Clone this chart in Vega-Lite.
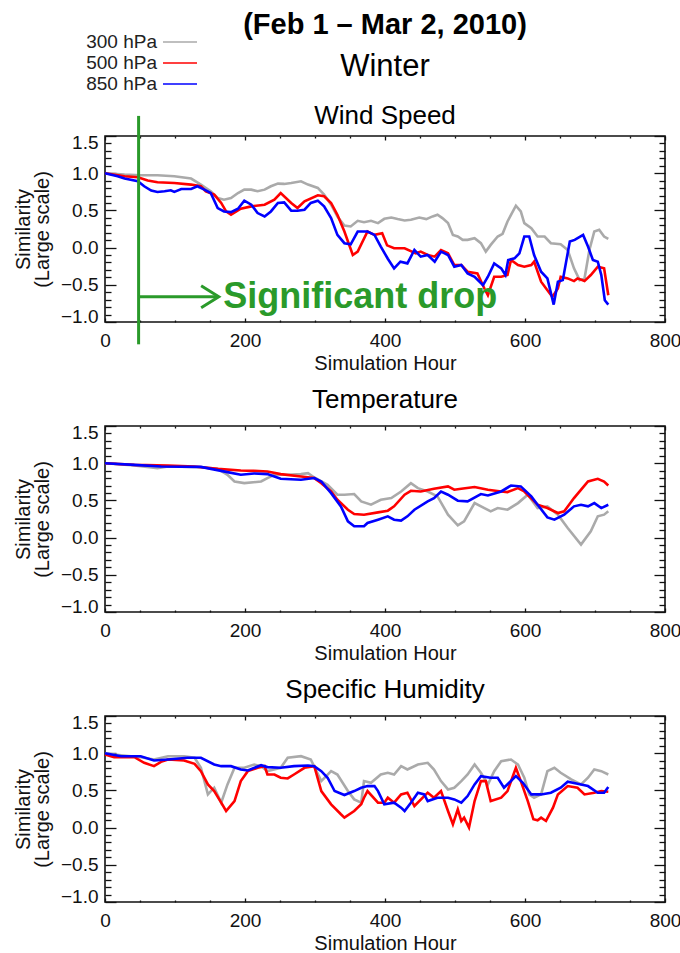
{
  "$schema": "https://vega.github.io/schema/vega-lite/v6.json",
  "background": "white",
  "padding": {"left": 12, "top": 11, "right": 0, "bottom": 0},
  "title": {
    "text": "(Feb 1 – Mar 2, 2010)",
    "subtitle": "Winter",
    "font": "Liberation Sans",
    "fontSize": 29,
    "fontWeight": "bold",
    "color": "#000",
    "subtitleFont": "Liberation Sans",
    "subtitleFontSize": 31,
    "subtitleColor": "#000",
    "subtitlePadding": 12,
    "anchor": "middle",
    "frame": "group",
    "offset": -52
  },
  "datasets": {
    "wind": [
      {"level":"300 hPa","hour":0,"value":1.0},{"level":"300 hPa","hour":28,"value":0.982},{"level":"300 hPa","hour":51,"value":0.973},{"level":"300 hPa","hour":75,"value":0.973},{"level":"300 hPa","hour":99,"value":0.959},{"level":"300 hPa","hour":123,"value":0.928},{"level":"300 hPa","hour":137,"value":0.847},{"level":"300 hPa","hour":151,"value":0.757},{"level":"300 hPa","hour":161,"value":0.667},{"level":"300 hPa","hour":170,"value":0.644},{"level":"300 hPa","hour":180,"value":0.667},{"level":"300 hPa","hour":190,"value":0.734},{"level":"300 hPa","hour":199,"value":0.779},{"level":"300 hPa","hour":209,"value":0.779},{"level":"300 hPa","hour":218,"value":0.757},{"level":"300 hPa","hour":228,"value":0.779},{"level":"300 hPa","hour":237,"value":0.824},{"level":"300 hPa","hour":247,"value":0.86},{"level":"300 hPa","hour":256,"value":0.856},{"level":"300 hPa","hour":266,"value":0.869},{"level":"300 hPa","hour":280,"value":0.892},{"level":"300 hPa","hour":290,"value":0.847},{"level":"300 hPa","hour":304,"value":0.802},{"level":"300 hPa","hour":313,"value":0.712},{"level":"300 hPa","hour":323,"value":0.577},{"level":"300 hPa","hour":332,"value":0.419},{"level":"300 hPa","hour":342,"value":0.297},{"level":"300 hPa","hour":351,"value":0.284},{"level":"300 hPa","hour":361,"value":0.36},{"level":"300 hPa","hour":370,"value":0.342},{"level":"300 hPa","hour":380,"value":0.36},{"level":"300 hPa","hour":390,"value":0.329},{"level":"300 hPa","hour":399,"value":0.387},{"level":"300 hPa","hour":409,"value":0.405},{"level":"300 hPa","hour":418,"value":0.383},{"level":"300 hPa","hour":428,"value":0.365},{"level":"300 hPa","hour":437,"value":0.374},{"level":"300 hPa","hour":449,"value":0.405},{"level":"300 hPa","hour":459,"value":0.383},{"level":"300 hPa","hour":468,"value":0.419},{"level":"300 hPa","hour":475,"value":0.441},{"level":"300 hPa","hour":482,"value":0.396},{"level":"300 hPa","hour":490,"value":0.329},{"level":"300 hPa","hour":497,"value":0.171},{"level":"300 hPa","hour":504,"value":0.149},{"level":"300 hPa","hour":511,"value":0.104},{"level":"300 hPa","hour":518,"value":0.104},{"level":"300 hPa","hour":528,"value":0.126},{"level":"300 hPa","hour":537,"value":0.059},{"level":"300 hPa","hour":544,"value":-0.054},{"level":"300 hPa","hour":551,"value":0.036},{"level":"300 hPa","hour":561,"value":0.149},{"level":"300 hPa","hour":568,"value":0.185},{"level":"300 hPa","hour":575,"value":0.351},{"level":"300 hPa","hour":580,"value":0.441},{"level":"300 hPa","hour":587,"value":0.563},{"level":"300 hPa","hour":594,"value":0.486},{"level":"300 hPa","hour":599,"value":0.329},{"level":"300 hPa","hour":609,"value":0.261},{"level":"300 hPa","hour":618,"value":0.149},{"level":"300 hPa","hour":628,"value":0.149},{"level":"300 hPa","hour":637,"value":0.059},{"level":"300 hPa","hour":651,"value":0.045},{"level":"300 hPa","hour":661,"value":-0.032},{"level":"300 hPa","hour":670,"value":-0.279},{"level":"300 hPa","hour":678,"value":-0.437},{"level":"300 hPa","hour":685,"value":-0.414},{"level":"300 hPa","hour":692,"value":-0.032},{"level":"300 hPa","hour":699,"value":0.216},{"level":"300 hPa","hour":706,"value":0.239},{"level":"300 hPa","hour":713,"value":0.149},{"level":"300 hPa","hour":719,"value":0.117},
      {"level":"500 hPa","hour":0,"value":1.0},{"level":"500 hPa","hour":28,"value":0.959},{"level":"500 hPa","hour":47,"value":0.946},{"level":"500 hPa","hour":61,"value":0.901},{"level":"500 hPa","hour":75,"value":0.878},{"level":"500 hPa","hour":99,"value":0.869},{"level":"500 hPa","hour":123,"value":0.847},{"level":"500 hPa","hour":137,"value":0.824},{"level":"500 hPa","hour":144,"value":0.757},{"level":"500 hPa","hour":156,"value":0.712},{"level":"500 hPa","hour":166,"value":0.6},{"level":"500 hPa","hour":173,"value":0.486},{"level":"500 hPa","hour":180,"value":0.441},{"level":"500 hPa","hour":194,"value":0.523},{"level":"500 hPa","hour":209,"value":0.554},{"level":"500 hPa","hour":228,"value":0.577},{"level":"500 hPa","hour":242,"value":0.644},{"level":"500 hPa","hour":251,"value":0.734},{"level":"500 hPa","hour":266,"value":0.6},{"level":"500 hPa","hour":275,"value":0.532},{"level":"500 hPa","hour":285,"value":0.622},{"level":"500 hPa","hour":304,"value":0.703},{"level":"500 hPa","hour":313,"value":0.689},{"level":"500 hPa","hour":323,"value":0.6},{"level":"500 hPa","hour":332,"value":0.441},{"level":"500 hPa","hour":342,"value":0.216},{"level":"500 hPa","hour":354,"value":-0.099},{"level":"500 hPa","hour":361,"value":-0.054},{"level":"500 hPa","hour":375,"value":0.216},{"level":"500 hPa","hour":385,"value":0.171},{"level":"500 hPa","hour":396,"value":0.194},{"level":"500 hPa","hour":403,"value":0.03},{"level":"500 hPa","hour":413,"value":-0.009},{"level":"500 hPa","hour":428,"value":-0.009},{"level":"500 hPa","hour":444,"value":-0.077},{"level":"500 hPa","hour":451,"value":-0.054},{"level":"500 hPa","hour":461,"value":-0.099},{"level":"500 hPa","hour":471,"value":-0.122},{"level":"500 hPa","hour":480,"value":-0.032},{"level":"500 hPa","hour":490,"value":-0.077},{"level":"500 hPa","hour":499,"value":-0.234},{"level":"500 hPa","hour":509,"value":-0.234},{"level":"500 hPa","hour":518,"value":-0.324},{"level":"500 hPa","hour":532,"value":-0.347},{"level":"500 hPa","hour":542,"value":-0.55},{"level":"500 hPa","hour":547,"value":-0.64},{"level":"500 hPa","hour":556,"value":-0.392},{"level":"500 hPa","hour":566,"value":-0.392},{"level":"500 hPa","hour":575,"value":-0.369},{"level":"500 hPa","hour":580,"value":-0.167},{"level":"500 hPa","hour":590,"value":-0.234},{"level":"500 hPa","hour":599,"value":-0.257},{"level":"500 hPa","hour":609,"value":-0.234},{"level":"500 hPa","hour":613,"value":-0.189},{"level":"500 hPa","hour":623,"value":-0.459},{"level":"500 hPa","hour":632,"value":-0.572},{"level":"500 hPa","hour":639,"value":-0.662},{"level":"500 hPa","hour":647,"value":-0.55},{"level":"500 hPa","hour":651,"value":-0.392},{"level":"500 hPa","hour":661,"value":-0.414},{"level":"500 hPa","hour":670,"value":-0.45},{"level":"500 hPa","hour":675,"value":-0.414},{"level":"500 hPa","hour":685,"value":-0.45},{"level":"500 hPa","hour":694,"value":-0.369},{"level":"500 hPa","hour":704,"value":-0.257},{"level":"500 hPa","hour":713,"value":-0.279},{"level":"500 hPa","hour":719,"value":-0.64},
      {"level":"850 hPa","hour":0,"value":1.0},{"level":"850 hPa","hour":18,"value":0.959},{"level":"850 hPa","hour":28,"value":0.928},{"level":"850 hPa","hour":47,"value":0.892},{"level":"850 hPa","hour":56,"value":0.824},{"level":"850 hPa","hour":66,"value":0.766},{"level":"850 hPa","hour":75,"value":0.748},{"level":"850 hPa","hour":85,"value":0.757},{"level":"850 hPa","hour":94,"value":0.77},{"level":"850 hPa","hour":99,"value":0.748},{"level":"850 hPa","hour":109,"value":0.788},{"level":"850 hPa","hour":123,"value":0.788},{"level":"850 hPa","hour":132,"value":0.824},{"level":"850 hPa","hour":142,"value":0.779},{"level":"850 hPa","hour":151,"value":0.734},{"level":"850 hPa","hour":161,"value":0.532},{"level":"850 hPa","hour":170,"value":0.486},{"level":"850 hPa","hour":180,"value":0.477},{"level":"850 hPa","hour":190,"value":0.523},{"level":"850 hPa","hour":199,"value":0.631},{"level":"850 hPa","hour":209,"value":0.577},{"level":"850 hPa","hour":218,"value":0.464},{"level":"850 hPa","hour":228,"value":0.419},{"level":"850 hPa","hour":237,"value":0.486},{"level":"850 hPa","hour":247,"value":0.6},{"level":"850 hPa","hour":256,"value":0.608},{"level":"850 hPa","hour":266,"value":0.496},{"level":"850 hPa","hour":275,"value":0.496},{"level":"850 hPa","hour":285,"value":0.509},{"level":"850 hPa","hour":294,"value":0.6},{"level":"850 hPa","hour":304,"value":0.631},{"level":"850 hPa","hour":313,"value":0.554},{"level":"850 hPa","hour":323,"value":0.396},{"level":"850 hPa","hour":332,"value":0.171},{"level":"850 hPa","hour":342,"value":0.059},{"level":"850 hPa","hour":351,"value":0.045},{"level":"850 hPa","hour":361,"value":0.216},{"level":"850 hPa","hour":375,"value":0.216},{"level":"850 hPa","hour":385,"value":0.171},{"level":"850 hPa","hour":394,"value":0.014},{"level":"850 hPa","hour":404,"value":-0.15},{"level":"850 hPa","hour":413,"value":-0.279},{"level":"850 hPa","hour":422,"value":-0.189},{"level":"850 hPa","hour":432,"value":-0.212},{"level":"850 hPa","hour":442,"value":-0.032},{"level":"850 hPa","hour":451,"value":-0.122},{"level":"850 hPa","hour":461,"value":-0.099},{"level":"850 hPa","hour":471,"value":-0.189},{"level":"850 hPa","hour":480,"value":-0.054},{"level":"850 hPa","hour":490,"value":-0.099},{"level":"850 hPa","hour":499,"value":-0.257},{"level":"850 hPa","hour":509,"value":-0.234},{"level":"850 hPa","hour":518,"value":-0.347},{"level":"850 hPa","hour":528,"value":-0.392},{"level":"850 hPa","hour":540,"value":-0.505},{"level":"850 hPa","hour":547,"value":-0.392},{"level":"850 hPa","hour":556,"value":-0.212},{"level":"850 hPa","hour":566,"value":-0.279},{"level":"850 hPa","hour":572,"value":-0.369},{"level":"850 hPa","hour":576,"value":-0.167},{"level":"850 hPa","hour":585,"value":-0.144},{"level":"850 hPa","hour":592,"value":-0.077},{"level":"850 hPa","hour":599,"value":0.149},{"level":"850 hPa","hour":606,"value":0.149},{"level":"850 hPa","hour":613,"value":-0.099},{"level":"850 hPa","hour":623,"value":-0.324},{"level":"850 hPa","hour":632,"value":-0.414},{"level":"850 hPa","hour":641,"value":-0.766},{"level":"850 hPa","hour":647,"value":-0.459},{"level":"850 hPa","hour":654,"value":-0.437},{"level":"850 hPa","hour":664,"value":0.081},{"level":"850 hPa","hour":671,"value":0.104},{"level":"850 hPa","hour":683,"value":0.171},{"level":"850 hPa","hour":690,"value":0.014},{"level":"850 hPa","hour":697,"value":-0.167},{"level":"850 hPa","hour":704,"value":-0.189},{"level":"850 hPa","hour":709,"value":-0.369},{"level":"850 hPa","hour":714,"value":-0.707},{"level":"850 hPa","hour":719,"value":-0.766}
    ],
    "temp": [
      {"level":"300 hPa","hour":0,"value":1.0},{"level":"300 hPa","hour":42,"value":0.969},{"level":"300 hPa","hour":75,"value":0.933},{"level":"300 hPa","hour":90,"value":0.955},{"level":"300 hPa","hour":137,"value":0.946},{"level":"300 hPa","hour":161,"value":0.924},{"level":"300 hPa","hour":175,"value":0.844},{"level":"300 hPa","hour":185,"value":0.754},{"level":"300 hPa","hour":199,"value":0.732},{"level":"300 hPa","hour":223,"value":0.754},{"level":"300 hPa","hour":232,"value":0.8},{"level":"300 hPa","hour":242,"value":0.844},{"level":"300 hPa","hour":261,"value":0.844},{"level":"300 hPa","hour":280,"value":0.853},{"level":"300 hPa","hour":290,"value":0.866},{"level":"300 hPa","hour":299,"value":0.808},{"level":"300 hPa","hour":318,"value":0.71},{"level":"300 hPa","hour":332,"value":0.576},{"level":"300 hPa","hour":342,"value":0.576},{"level":"300 hPa","hour":356,"value":0.585},{"level":"300 hPa","hour":366,"value":0.487},{"level":"300 hPa","hour":380,"value":0.442},{"level":"300 hPa","hour":394,"value":0.509},{"level":"300 hPa","hour":409,"value":0.531},{"level":"300 hPa","hour":423,"value":0.62},{"level":"300 hPa","hour":437,"value":0.732},{"level":"300 hPa","hour":447,"value":0.665},{"level":"300 hPa","hour":461,"value":0.62},{"level":"300 hPa","hour":475,"value":0.554},{"level":"300 hPa","hour":490,"value":0.308},{"level":"300 hPa","hour":504,"value":0.165},{"level":"300 hPa","hour":513,"value":0.219},{"level":"300 hPa","hour":528,"value":0.464},{"level":"300 hPa","hour":542,"value":0.397},{"level":"300 hPa","hour":551,"value":0.353},{"level":"300 hPa","hour":561,"value":0.397},{"level":"300 hPa","hour":575,"value":0.375},{"level":"300 hPa","hour":590,"value":0.464},{"level":"300 hPa","hour":604,"value":0.576},{"level":"300 hPa","hour":618,"value":0.397},{"level":"300 hPa","hour":632,"value":0.42},{"level":"300 hPa","hour":647,"value":0.308},{"level":"300 hPa","hour":661,"value":0.129},{"level":"300 hPa","hour":680,"value":-0.094},{"level":"300 hPa","hour":694,"value":0.085},{"level":"300 hPa","hour":704,"value":0.286},{"level":"300 hPa","hour":713,"value":0.308},{"level":"300 hPa","hour":719,"value":0.353},
      {"level":"500 hPa","hour":0,"value":1.0},{"level":"500 hPa","hour":42,"value":0.978},{"level":"500 hPa","hour":90,"value":0.969},{"level":"500 hPa","hour":128,"value":0.955},{"level":"500 hPa","hour":161,"value":0.924},{"level":"500 hPa","hour":194,"value":0.902},{"level":"500 hPa","hour":213,"value":0.897},{"level":"500 hPa","hour":232,"value":0.888},{"level":"500 hPa","hour":251,"value":0.853},{"level":"500 hPa","hour":280,"value":0.821},{"level":"500 hPa","hour":299,"value":0.8},{"level":"500 hPa","hour":309,"value":0.732},{"level":"500 hPa","hour":323,"value":0.62},{"level":"500 hPa","hour":332,"value":0.509},{"level":"500 hPa","hour":347,"value":0.375},{"level":"500 hPa","hour":356,"value":0.317},{"level":"500 hPa","hour":370,"value":0.308},{"level":"500 hPa","hour":390,"value":0.339},{"level":"500 hPa","hour":404,"value":0.362},{"level":"500 hPa","hour":413,"value":0.42},{"level":"500 hPa","hour":428,"value":0.576},{"level":"500 hPa","hour":437,"value":0.629},{"level":"500 hPa","hour":451,"value":0.62},{"level":"500 hPa","hour":470,"value":0.656},{"level":"500 hPa","hour":490,"value":0.688},{"level":"500 hPa","hour":499,"value":0.643},{"level":"500 hPa","hour":509,"value":0.656},{"level":"500 hPa","hour":528,"value":0.679},{"level":"500 hPa","hour":547,"value":0.643},{"level":"500 hPa","hour":566,"value":0.62},{"level":"500 hPa","hour":575,"value":0.612},{"level":"500 hPa","hour":590,"value":0.665},{"level":"500 hPa","hour":599,"value":0.62},{"level":"500 hPa","hour":618,"value":0.442},{"level":"500 hPa","hour":632,"value":0.397},{"level":"500 hPa","hour":647,"value":0.33},{"level":"500 hPa","hour":656,"value":0.353},{"level":"500 hPa","hour":670,"value":0.531},{"level":"500 hPa","hour":690,"value":0.754},{"level":"500 hPa","hour":704,"value":0.79},{"level":"500 hPa","hour":713,"value":0.754},{"level":"500 hPa","hour":719,"value":0.7},
      {"level":"850 hPa","hour":0,"value":1.0},{"level":"850 hPa","hour":42,"value":0.978},{"level":"850 hPa","hour":80,"value":0.955},{"level":"850 hPa","hour":137,"value":0.95},{"level":"850 hPa","hour":175,"value":0.88},{"level":"850 hPa","hour":194,"value":0.844},{"level":"850 hPa","hour":213,"value":0.862},{"level":"850 hPa","hour":232,"value":0.853},{"level":"850 hPa","hour":242,"value":0.821},{"level":"850 hPa","hour":251,"value":0.79},{"level":"850 hPa","hour":280,"value":0.777},{"level":"850 hPa","hour":299,"value":0.8},{"level":"850 hPa","hour":309,"value":0.754},{"level":"850 hPa","hour":323,"value":0.598},{"level":"850 hPa","hour":337,"value":0.42},{"level":"850 hPa","hour":347,"value":0.219},{"level":"850 hPa","hour":356,"value":0.152},{"level":"850 hPa","hour":370,"value":0.152},{"level":"850 hPa","hour":375,"value":0.196},{"level":"850 hPa","hour":390,"value":0.241},{"level":"850 hPa","hour":404,"value":0.286},{"level":"850 hPa","hour":413,"value":0.241},{"level":"850 hPa","hour":423,"value":0.228},{"level":"850 hPa","hour":432,"value":0.286},{"level":"850 hPa","hour":442,"value":0.375},{"level":"850 hPa","hour":461,"value":0.487},{"level":"850 hPa","hour":470,"value":0.531},{"level":"850 hPa","hour":480,"value":0.62},{"level":"850 hPa","hour":490,"value":0.576},{"level":"850 hPa","hour":504,"value":0.496},{"level":"850 hPa","hour":518,"value":0.487},{"level":"850 hPa","hour":537,"value":0.585},{"level":"850 hPa","hour":547,"value":0.567},{"level":"850 hPa","hour":566,"value":0.62},{"level":"850 hPa","hour":580,"value":0.7},{"level":"850 hPa","hour":594,"value":0.688},{"level":"850 hPa","hour":609,"value":0.554},{"level":"850 hPa","hour":618,"value":0.442},{"level":"850 hPa","hour":632,"value":0.272},{"level":"850 hPa","hour":642,"value":0.241},{"level":"850 hPa","hour":656,"value":0.308},{"level":"850 hPa","hour":670,"value":0.42},{"level":"850 hPa","hour":680,"value":0.442},{"level":"850 hPa","hour":690,"value":0.42},{"level":"850 hPa","hour":699,"value":0.464},{"level":"850 hPa","hour":709,"value":0.397},{"level":"850 hPa","hour":719,"value":0.442}
    ],
    "hum": [
      {"level":"300 hPa","hour":0,"value":1.0},{"level":"300 hPa","hour":23,"value":0.973},{"level":"300 hPa","hour":51,"value":0.946},{"level":"300 hPa","hour":70,"value":0.915},{"level":"300 hPa","hour":90,"value":0.96},{"level":"300 hPa","hour":113,"value":0.96},{"level":"300 hPa","hour":128,"value":0.938},{"level":"300 hPa","hour":137,"value":0.804},{"level":"300 hPa","hour":147,"value":0.446},{"level":"300 hPa","hour":156,"value":0.536},{"level":"300 hPa","hour":166,"value":0.335},{"level":"300 hPa","hour":175,"value":0.58},{"level":"300 hPa","hour":185,"value":0.804},{"level":"300 hPa","hour":199,"value":0.804},{"level":"300 hPa","hour":213,"value":0.848},{"level":"300 hPa","hour":223,"value":0.826},{"level":"300 hPa","hour":232,"value":0.759},{"level":"300 hPa","hour":251,"value":0.804},{"level":"300 hPa","hour":261,"value":0.938},{"level":"300 hPa","hour":280,"value":0.96},{"level":"300 hPa","hour":294,"value":0.915},{"level":"300 hPa","hour":309,"value":0.625},{"level":"300 hPa","hour":323,"value":0.759},{"level":"300 hPa","hour":332,"value":0.714},{"level":"300 hPa","hour":347,"value":0.491},{"level":"300 hPa","hour":356,"value":0.379},{"level":"300 hPa","hour":366,"value":0.335},{"level":"300 hPa","hour":370,"value":0.625},{"level":"300 hPa","hour":380,"value":0.603},{"level":"300 hPa","hour":394,"value":0.714},{"level":"300 hPa","hour":404,"value":0.737},{"level":"300 hPa","hour":413,"value":0.714},{"level":"300 hPa","hour":423,"value":0.826},{"level":"300 hPa","hour":432,"value":0.781},{"level":"300 hPa","hour":447,"value":0.848},{"level":"300 hPa","hour":461,"value":0.871},{"level":"300 hPa","hour":470,"value":0.781},{"level":"300 hPa","hour":480,"value":0.625},{"level":"300 hPa","hour":490,"value":0.513},{"level":"300 hPa","hour":499,"value":0.536},{"level":"300 hPa","hour":509,"value":0.625},{"level":"300 hPa","hour":518,"value":0.714},{"level":"300 hPa","hour":528,"value":0.848},{"level":"300 hPa","hour":537,"value":0.737},{"level":"300 hPa","hour":547,"value":0.58},{"level":"300 hPa","hour":556,"value":0.759},{"level":"300 hPa","hour":566,"value":0.893},{"level":"300 hPa","hour":580,"value":0.915},{"level":"300 hPa","hour":590,"value":0.848},{"level":"300 hPa","hour":599,"value":0.67},{"level":"300 hPa","hour":606,"value":0.446},{"level":"300 hPa","hour":613,"value":0.402},{"level":"300 hPa","hour":623,"value":0.446},{"level":"300 hPa","hour":632,"value":0.759},{"level":"300 hPa","hour":642,"value":0.804},{"level":"300 hPa","hour":651,"value":0.737},{"level":"300 hPa","hour":666,"value":0.647},{"level":"300 hPa","hour":680,"value":0.58},{"level":"300 hPa","hour":690,"value":0.67},{"level":"300 hPa","hour":699,"value":0.781},{"level":"300 hPa","hour":709,"value":0.759},{"level":"300 hPa","hour":719,"value":0.714},
      {"level":"500 hPa","hour":0,"value":0.982},{"level":"500 hPa","hour":13,"value":0.946},{"level":"500 hPa","hour":42,"value":0.946},{"level":"500 hPa","hour":56,"value":0.871},{"level":"500 hPa","hour":70,"value":0.826},{"level":"500 hPa","hour":80,"value":0.884},{"level":"500 hPa","hour":90,"value":0.915},{"level":"500 hPa","hour":113,"value":0.902},{"level":"500 hPa","hour":128,"value":0.857},{"level":"500 hPa","hour":137,"value":0.759},{"level":"500 hPa","hour":147,"value":0.58},{"level":"500 hPa","hour":156,"value":0.491},{"level":"500 hPa","hour":166,"value":0.335},{"level":"500 hPa","hour":173,"value":0.223},{"level":"500 hPa","hour":185,"value":0.357},{"level":"500 hPa","hour":194,"value":0.625},{"level":"500 hPa","hour":204,"value":0.759},{"level":"500 hPa","hour":218,"value":0.804},{"level":"500 hPa","hour":228,"value":0.826},{"level":"500 hPa","hour":232,"value":0.714},{"level":"500 hPa","hour":242,"value":0.714},{"level":"500 hPa","hour":251,"value":0.67},{"level":"500 hPa","hour":261,"value":0.661},{"level":"500 hPa","hour":270,"value":0.714},{"level":"500 hPa","hour":285,"value":0.804},{"level":"500 hPa","hour":299,"value":0.826},{"level":"500 hPa","hour":309,"value":0.491},{"level":"500 hPa","hour":323,"value":0.313},{"level":"500 hPa","hour":337,"value":0.179},{"level":"500 hPa","hour":342,"value":0.134},{"level":"500 hPa","hour":356,"value":0.223},{"level":"500 hPa","hour":366,"value":0.313},{"level":"500 hPa","hour":370,"value":0.402},{"level":"500 hPa","hour":375,"value":0.491},{"level":"500 hPa","hour":390,"value":0.335},{"level":"500 hPa","hour":399,"value":0.335},{"level":"500 hPa","hour":404,"value":0.402},{"level":"500 hPa","hour":413,"value":0.335},{"level":"500 hPa","hour":423,"value":0.446},{"level":"500 hPa","hour":432,"value":0.469},{"level":"500 hPa","hour":442,"value":0.29},{"level":"500 hPa","hour":461,"value":0.469},{"level":"500 hPa","hour":470,"value":0.402},{"level":"500 hPa","hour":480,"value":0.491},{"level":"500 hPa","hour":490,"value":0.223},{"level":"500 hPa","hour":497,"value":0.045},{"level":"500 hPa","hour":504,"value":0.246},{"level":"500 hPa","hour":509,"value":0.089},{"level":"500 hPa","hour":513,"value":0.134},{"level":"500 hPa","hour":520,"value":0.0},{"level":"500 hPa","hour":528,"value":0.357},{"level":"500 hPa","hour":537,"value":0.625},{"level":"500 hPa","hour":544,"value":0.625},{"level":"500 hPa","hour":551,"value":0.357},{"level":"500 hPa","hour":566,"value":0.402},{"level":"500 hPa","hour":575,"value":0.491},{"level":"500 hPa","hour":587,"value":0.804},{"level":"500 hPa","hour":594,"value":0.625},{"level":"500 hPa","hour":604,"value":0.357},{"level":"500 hPa","hour":612,"value":0.112},{"level":"500 hPa","hour":618,"value":0.098},{"level":"500 hPa","hour":623,"value":0.134},{"level":"500 hPa","hour":630,"value":0.089},{"level":"500 hPa","hour":640,"value":0.268},{"level":"500 hPa","hour":647,"value":0.446},{"level":"500 hPa","hour":661,"value":0.558},{"level":"500 hPa","hour":675,"value":0.536},{"level":"500 hPa","hour":685,"value":0.446},{"level":"500 hPa","hour":699,"value":0.469},{"level":"500 hPa","hour":709,"value":0.491},{"level":"500 hPa","hour":719,"value":0.482},
      {"level":"850 hPa","hour":0,"value":1.0},{"level":"850 hPa","hour":23,"value":0.96},{"level":"850 hPa","hour":51,"value":0.96},{"level":"850 hPa","hour":70,"value":0.902},{"level":"850 hPa","hour":90,"value":0.915},{"level":"850 hPa","hour":118,"value":0.938},{"level":"850 hPa","hour":137,"value":0.938},{"level":"850 hPa","hour":156,"value":0.848},{"level":"850 hPa","hour":166,"value":0.826},{"level":"850 hPa","hour":180,"value":0.826},{"level":"850 hPa","hour":194,"value":0.781},{"level":"850 hPa","hour":204,"value":0.768},{"level":"850 hPa","hour":223,"value":0.839},{"level":"850 hPa","hour":232,"value":0.813},{"level":"850 hPa","hour":251,"value":0.804},{"level":"850 hPa","hour":270,"value":0.826},{"level":"850 hPa","hour":290,"value":0.835},{"level":"850 hPa","hour":299,"value":0.826},{"level":"850 hPa","hour":309,"value":0.759},{"level":"850 hPa","hour":318,"value":0.67},{"level":"850 hPa","hour":328,"value":0.491},{"level":"850 hPa","hour":342,"value":0.438},{"level":"850 hPa","hour":356,"value":0.491},{"level":"850 hPa","hour":366,"value":0.536},{"level":"850 hPa","hour":375,"value":0.558},{"level":"850 hPa","hour":385,"value":0.558},{"level":"850 hPa","hour":390,"value":0.491},{"level":"850 hPa","hour":399,"value":0.313},{"level":"850 hPa","hour":413,"value":0.335},{"level":"850 hPa","hour":423,"value":0.268},{"level":"850 hPa","hour":428,"value":0.223},{"level":"850 hPa","hour":437,"value":0.335},{"level":"850 hPa","hour":447,"value":0.469},{"level":"850 hPa","hour":456,"value":0.446},{"level":"850 hPa","hour":461,"value":0.357},{"level":"850 hPa","hour":475,"value":0.402},{"level":"850 hPa","hour":490,"value":0.402},{"level":"850 hPa","hour":499,"value":0.379},{"level":"850 hPa","hour":509,"value":0.335},{"level":"850 hPa","hour":518,"value":0.424},{"level":"850 hPa","hour":528,"value":0.58},{"level":"850 hPa","hour":537,"value":0.692},{"level":"850 hPa","hour":551,"value":0.67},{"level":"850 hPa","hour":561,"value":0.67},{"level":"850 hPa","hour":570,"value":0.536},{"level":"850 hPa","hour":587,"value":0.692},{"level":"850 hPa","hour":597,"value":0.603},{"level":"850 hPa","hour":609,"value":0.446},{"level":"850 hPa","hour":623,"value":0.446},{"level":"850 hPa","hour":637,"value":0.469},{"level":"850 hPa","hour":651,"value":0.536},{"level":"850 hPa","hour":661,"value":0.616},{"level":"850 hPa","hour":675,"value":0.589},{"level":"850 hPa","hour":690,"value":0.558},{"level":"850 hPa","hour":704,"value":0.469},{"level":"850 hPa","hour":713,"value":0.469},{"level":"850 hPa","hour":719,"value":0.545}
    ],
    "marker": [{"hour": 48, "low": -1.3, "high": 1.77}],
    "arrow": [{"start": 48, "end": 160, "value": -0.66}],
    "head": [{"hour": 162.5, "value": -0.66}],
    "note": [{"hour": 169, "value": -0.66, "label": "Significant drop"}]
  },
  "vconcat": [
    {
      "width": 560, "height": 186,
      "title": {"text": "Wind Speed", "offset": -98},
      "layer": [
        {
          "data": {"name": "wind"},
          "mark": {"type": "line", "strokeWidth": 2.6},
          "encoding": {
            "x": {"field": "hour", "type": "quantitative", "scale": {"domain": [0, 800], "nice": false},
                  "axis": {"orient": "bottom", "values": [0, 200, 400, 600, 800], "format": "d", "tickSize": 4, "offset": -4, "labelPadding": 9, "labelFlush": false, "title": "Simulation Hour", "titlePadding": 3}},
            "y": {"field": "value", "type": "quantitative", "scale": {"domain": [-1, 1.5], "nice": false},
                  "axis": {"orient": "left", "values": [-1, -0.5, 0, 0.5, 1, 1.5], "format": ".1f", "tickSize": 11, "offset": -11, "labelPadding": 7, "labelFlush": false,
                           "labelOffset": {"condition": [{"test": "datum.value > 1.4", "value": 6}, {"test": "datum.value < -0.9", "value": -6}], "value": 0},
                           "title": ["Similarity", "(Large scale)"], "titlePadding": 8, "titleLineHeight": 19}},
            "color": {"field": "level", "type": "nominal",
                      "scale": {"domain": ["300 hPa", "500 hPa", "850 hPa"], "range": ["#aaaaaa", "#ff0000", "#0000ff"]},
                      "legend": {"orient": "none", "legendX": 64, "legendY": -105, "direction": "vertical", "title": null,
                                 "symbolType": "M-1.7,0H1.7", "symbolSize": 400, "symbolStrokeWidth": 1.5,
                                 "labelAlign": "right", "labelOffset": -34, "labelFontSize": 19, "labelFont": "Liberation Sans", "labelColor": "#222",
                                 "rowPadding": 0, "padding": 0}}
          }
        },
        {
          "data": {"name": "wind"},
          "transform": [{"filter": "datum.hour == 0"}],
          "mark": {"type": "point", "opacity": 0},
          "encoding": {
            "x": {"field": "hour", "type": "quantitative", "scale": {"domain": [0, 800], "nice": false},
                  "axis": {"orient": "top", "values": [0, 200, 400, 600, 800], "tickSize": 4, "offset": -4, "labels": false, "title": null}},
            "y": {"field": "value", "type": "quantitative", "scale": {"domain": [-1, 1.5], "nice": false},
                  "axis": {"orient": "right", "values": [-1, -0.5, 0, 0.5, 1, 1.5], "tickSize": 11, "offset": -11, "labels": false, "title": null}}
          }
        },
        {
          "data": {"name": "wind"},
          "transform": [{"filter": "datum.hour == 0"}],
          "mark": {"type": "point", "opacity": 0},
          "encoding": {
            "x": {"field": "hour", "type": "quantitative", "scale": {"domain": [0, 800], "nice": false},
                  "axis": {"orient": "bottom", "values": [50, 100, 150, 250, 300, 350, 450, 500, 550, 650, 700, 750], "tickSize": 2, "offset": -2, "labels": false, "title": null}},
            "y": {"field": "value", "type": "quantitative", "scale": {"domain": [-1, 1.5], "nice": false},
                  "axis": {"orient": "left", "values": [-0.9, -0.8, -0.7, -0.6, -0.4, -0.3, -0.2, -0.1, 0.1, 0.2, 0.3, 0.4, 0.6, 0.7, 0.8, 0.9, 1.1, 1.2, 1.3, 1.4], "tickSize": 6, "offset": -6, "labels": false, "title": null}}
          }
        },
        {
          "data": {"name": "wind"},
          "transform": [{"filter": "datum.hour == 0"}],
          "mark": {"type": "point", "opacity": 0},
          "encoding": {
            "x": {"field": "hour", "type": "quantitative", "scale": {"domain": [0, 800], "nice": false},
                  "axis": {"orient": "top", "values": [50, 100, 150, 250, 300, 350, 450, 500, 550, 650, 700, 750], "tickSize": 2, "offset": -2, "labels": false, "title": null}},
            "y": {"field": "value", "type": "quantitative", "scale": {"domain": [-1, 1.5], "nice": false},
                  "axis": {"orient": "right", "values": [-0.9, -0.8, -0.7, -0.6, -0.4, -0.3, -0.2, -0.1, 0.1, 0.2, 0.3, 0.4, 0.6, 0.7, 0.8, 0.9, 1.1, 1.2, 1.3, 1.4], "tickSize": 6, "offset": -6, "labels": false, "title": null}}
          }
        },
        {
          "data": {"name": "marker"},
          "mark": {"type": "rule", "color": "#2a9a2a", "strokeWidth": 3},
          "encoding": {
            "x": {"field": "hour", "type": "quantitative", "scale": {"domain": [0, 800], "nice": false}, "axis": null},
            "y": {"field": "low", "type": "quantitative", "scale": {"domain": [-1, 1.5], "nice": false}, "axis": null},
            "y2": {"field": "high"}
          }
        },
        {
          "data": {"name": "arrow"},
          "mark": {"type": "rule", "color": "#2a9a2a", "strokeWidth": 3},
          "encoding": {
            "x": {"field": "start", "type": "quantitative", "scale": {"domain": [0, 800], "nice": false}, "axis": null},
            "x2": {"field": "end"},
            "y": {"field": "value", "type": "quantitative", "scale": {"domain": [-1, 1.5], "nice": false}, "axis": null}
          }
        },
        {
          "data": {"name": "head"},
          "mark": {"type": "point", "shape": "M-1.6,-1L0,0L-1.6,1", "filled": false, "size": 484, "strokeWidth": 3, "color": "#2a9a2a", "opacity": 1},
          "encoding": {
            "x": {"field": "hour", "type": "quantitative", "scale": {"domain": [0, 800], "nice": false}, "axis": null},
            "y": {"field": "value", "type": "quantitative", "scale": {"domain": [-1, 1.5], "nice": false}, "axis": null}
          }
        },
        {
          "data": {"name": "note"},
          "mark": {"type": "text", "align": "left", "baseline": "middle", "font": "Liberation Sans", "fontSize": 36, "fontWeight": "bold", "color": "#2a9a2a"},
          "encoding": {
            "x": {"field": "hour", "type": "quantitative", "scale": {"domain": [0, 800], "nice": false}, "axis": null},
            "y": {"field": "value", "type": "quantitative", "scale": {"domain": [-1, 1.5], "nice": false}, "axis": null},
            "text": {"field": "label"}
          }
        }
      ],
      "resolve": {"axis": {"x": "independent", "y": "independent"}}
    },
    {
      "width": 560, "height": 186,
      "title": {"text": "Temperature"},
      "data": {"name": "temp"},
      "layer": [
        {
          "mark": {"type": "line", "strokeWidth": 2.6},
          "encoding": {
            "x": {"field": "hour", "type": "quantitative", "scale": {"domain": [0, 800], "nice": false},
                  "axis": {"orient": "bottom", "values": [0, 200, 400, 600, 800], "format": "d", "tickSize": 4, "offset": -4, "labelPadding": 9, "labelFlush": false, "title": "Simulation Hour", "titlePadding": 3}},
            "y": {"field": "value", "type": "quantitative", "scale": {"domain": [-1, 1.5], "nice": false},
                  "axis": {"orient": "left", "values": [-1, -0.5, 0, 0.5, 1, 1.5], "format": ".1f", "tickSize": 11, "offset": -11, "labelPadding": 7, "labelFlush": false,
                           "labelOffset": {"condition": [{"test": "datum.value > 1.4", "value": 6}, {"test": "datum.value < -0.9", "value": -6}], "value": 0},
                           "title": ["Similarity", "(Large scale)"], "titlePadding": 8, "titleLineHeight": 19}},
            "color": {"field": "level", "type": "nominal",
                      "scale": {"domain": ["300 hPa", "500 hPa", "850 hPa"], "range": ["#aaaaaa", "#ff0000", "#0000ff"]},
                      "legend": null}
          }
        },
        {
          "transform": [{"filter": "datum.hour == 0"}],
          "mark": {"type": "point", "opacity": 0},
          "encoding": {
            "x": {"field": "hour", "type": "quantitative", "scale": {"domain": [0, 800], "nice": false},
                  "axis": {"orient": "top", "values": [0, 200, 400, 600, 800], "tickSize": 4, "offset": -4, "labels": false, "title": null}},
            "y": {"field": "value", "type": "quantitative", "scale": {"domain": [-1, 1.5], "nice": false},
                  "axis": {"orient": "right", "values": [-1, -0.5, 0, 0.5, 1, 1.5], "tickSize": 11, "offset": -11, "labels": false, "title": null}}
          }
        },
        {
          "transform": [{"filter": "datum.hour == 0"}],
          "mark": {"type": "point", "opacity": 0},
          "encoding": {
            "x": {"field": "hour", "type": "quantitative", "scale": {"domain": [0, 800], "nice": false},
                  "axis": {"orient": "bottom", "values": [50, 100, 150, 250, 300, 350, 450, 500, 550, 650, 700, 750], "tickSize": 2, "offset": -2, "labels": false, "title": null}},
            "y": {"field": "value", "type": "quantitative", "scale": {"domain": [-1, 1.5], "nice": false},
                  "axis": {"orient": "left", "values": [-0.9, -0.8, -0.7, -0.6, -0.4, -0.3, -0.2, -0.1, 0.1, 0.2, 0.3, 0.4, 0.6, 0.7, 0.8, 0.9, 1.1, 1.2, 1.3, 1.4], "tickSize": 6, "offset": -6, "labels": false, "title": null}}
          }
        },
        {
          "transform": [{"filter": "datum.hour == 0"}],
          "mark": {"type": "point", "opacity": 0},
          "encoding": {
            "x": {"field": "hour", "type": "quantitative", "scale": {"domain": [0, 800], "nice": false},
                  "axis": {"orient": "top", "values": [50, 100, 150, 250, 300, 350, 450, 500, 550, 650, 700, 750], "tickSize": 2, "offset": -2, "labels": false, "title": null}},
            "y": {"field": "value", "type": "quantitative", "scale": {"domain": [-1, 1.5], "nice": false},
                  "axis": {"orient": "right", "values": [-0.9, -0.8, -0.7, -0.6, -0.4, -0.3, -0.2, -0.1, 0.1, 0.2, 0.3, 0.4, 0.6, 0.7, 0.8, 0.9, 1.1, 1.2, 1.3, 1.4], "tickSize": 6, "offset": -6, "labels": false, "title": null}}
          }
        }
      ],
      "resolve": {"axis": {"x": "independent", "y": "independent"}}
    },
    {
      "width": 560, "height": 186,
      "title": {"text": "Specific Humidity"},
      "data": {"name": "hum"},
      "layer": [
        {
          "mark": {"type": "line", "strokeWidth": 2.6},
          "encoding": {
            "x": {"field": "hour", "type": "quantitative", "scale": {"domain": [0, 800], "nice": false},
                  "axis": {"orient": "bottom", "values": [0, 200, 400, 600, 800], "format": "d", "tickSize": 4, "offset": -4, "labelPadding": 9, "labelFlush": false, "title": "Simulation Hour", "titlePadding": 3}},
            "y": {"field": "value", "type": "quantitative", "scale": {"domain": [-1, 1.5], "nice": false},
                  "axis": {"orient": "left", "values": [-1, -0.5, 0, 0.5, 1, 1.5], "format": ".1f", "tickSize": 11, "offset": -11, "labelPadding": 7, "labelFlush": false,
                           "labelOffset": {"condition": [{"test": "datum.value > 1.4", "value": 6}, {"test": "datum.value < -0.9", "value": -6}], "value": 0},
                           "title": ["Similarity", "(Large scale)"], "titlePadding": 8, "titleLineHeight": 19}},
            "color": {"field": "level", "type": "nominal",
                      "scale": {"domain": ["300 hPa", "500 hPa", "850 hPa"], "range": ["#aaaaaa", "#ff0000", "#0000ff"]},
                      "legend": null}
          }
        },
        {
          "transform": [{"filter": "datum.hour == 0"}],
          "mark": {"type": "point", "opacity": 0},
          "encoding": {
            "x": {"field": "hour", "type": "quantitative", "scale": {"domain": [0, 800], "nice": false},
                  "axis": {"orient": "top", "values": [0, 200, 400, 600, 800], "tickSize": 4, "offset": -4, "labels": false, "title": null}},
            "y": {"field": "value", "type": "quantitative", "scale": {"domain": [-1, 1.5], "nice": false},
                  "axis": {"orient": "right", "values": [-1, -0.5, 0, 0.5, 1, 1.5], "tickSize": 11, "offset": -11, "labels": false, "title": null}}
          }
        },
        {
          "transform": [{"filter": "datum.hour == 0"}],
          "mark": {"type": "point", "opacity": 0},
          "encoding": {
            "x": {"field": "hour", "type": "quantitative", "scale": {"domain": [0, 800], "nice": false},
                  "axis": {"orient": "bottom", "values": [50, 100, 150, 250, 300, 350, 450, 500, 550, 650, 700, 750], "tickSize": 2, "offset": -2, "labels": false, "title": null}},
            "y": {"field": "value", "type": "quantitative", "scale": {"domain": [-1, 1.5], "nice": false},
                  "axis": {"orient": "left", "values": [-0.9, -0.8, -0.7, -0.6, -0.4, -0.3, -0.2, -0.1, 0.1, 0.2, 0.3, 0.4, 0.6, 0.7, 0.8, 0.9, 1.1, 1.2, 1.3, 1.4], "tickSize": 6, "offset": -6, "labels": false, "title": null}}
          }
        },
        {
          "transform": [{"filter": "datum.hour == 0"}],
          "mark": {"type": "point", "opacity": 0},
          "encoding": {
            "x": {"field": "hour", "type": "quantitative", "scale": {"domain": [0, 800], "nice": false},
                  "axis": {"orient": "top", "values": [50, 100, 150, 250, 300, 350, 450, 500, 550, 650, 700, 750], "tickSize": 2, "offset": -2, "labels": false, "title": null}},
            "y": {"field": "value", "type": "quantitative", "scale": {"domain": [-1, 1.5], "nice": false},
                  "axis": {"orient": "right", "values": [-0.9, -0.8, -0.7, -0.6, -0.4, -0.3, -0.2, -0.1, 0.1, 0.2, 0.3, 0.4, 0.6, 0.7, 0.8, 0.9, 1.1, 1.2, 1.3, 1.4], "tickSize": 6, "offset": -6, "labels": false, "title": null}}
          }
        }
      ],
      "resolve": {"axis": {"x": "independent", "y": "independent"}}
    }
  ],
  "spacing": 104,
  "bounds": "flush",
  "resolve": {"legend": {"color": "independent"}},
  "config": {
    "font": "Liberation Sans",
    "view": {"stroke": "#111", "strokeWidth": 1.6},
    "axis": {"grid": false, "domain": false, "tickColor": "#111", "tickWidth": 1.3,
             "labelFont": "Liberation Sans", "labelFontSize": 19, "labelColor": "#111", "labelOverlap": false, "labelBound": false,
             "titleFont": "Liberation Sans", "titleFontSize": 20, "titleFontWeight": "normal", "titleColor": "#111"},
    "title": {"font": "Liberation Sans", "fontSize": 26, "fontWeight": "normal", "color": "#000", "anchor": "middle", "frame": "group", "offset": 10}
  }
}
